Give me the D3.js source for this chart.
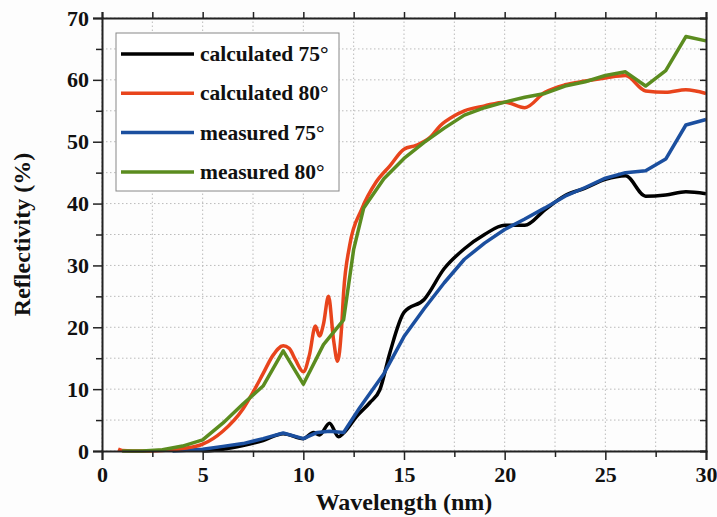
<!DOCTYPE html>
<html>
<head>
<meta charset="utf-8">
<script src="https://cdn.jsdelivr.net/npm/d3@7"></script>
<style>
  body { margin: 0; background: #fdfdfd; }
  text { font-family: "Liberation Serif", "Times New Roman", serif; font-weight: bold; fill: #111; }
</style>
</head>
<body>
<div id="main"></div>
<script>
// DATA (wavelength nm, reflectivity %)
const calc75 = [
  [5, 0], [6, 0.3], [7, 0.9], [8, 1.7], [9, 2.8], [10, 2.0], [10.5, 3.0], [10.8, 2.6],
  [11.3, 4.5], [11.75, 2.3], [12, 2.9], [12.65, 5.6], [13.3, 7.8], [13.8, 9.9], [14.3, 15.9],
  [15, 22.4], [16, 24.5], [17, 29.5], [18, 32.7], [19, 35], [20, 36.5], [21, 36.5], [22, 39],
  [23, 41.3], [24, 42.5], [25, 43.9], [26, 44.5], [27, 41.2], [28, 41.4], [29, 41.9], [30, 41.6]
]
const calc80 = [
  [0.8, 0.3], [1, 0.1], [2, 0], [3, 0.1], [4, 0.4], [5, 1.1], [6, 3.2], [7, 6.8], [7.5, 9.5],
  [8, 12.5], [8.5, 15.5], [9, 17.0], [9.3, 16.6], [9.6, 14.8], [10, 12.8], [10.3, 15.5],
  [10.6, 20.2], [10.8, 18.6], [11.0, 20.5], [11.25, 25], [11.5, 18], [11.7, 14.5], [11.9, 20],
  [12.0, 25.6], [12.3, 33.2], [12.9, 39.1], [13.6, 43.4], [14.3, 46.1], [15.0, 48.8], [15.6, 49.4],
  [16.3, 50.7], [16.8, 52.6], [17.5, 54.2], [18, 55.0], [19, 55.8], [20, 56.4], [21, 55.5],
  [22, 58.0], [23, 59.2], [24, 59.8], [25, 60.3], [26, 60.7], [27, 58.2], [28, 58.0], [29, 58.4], [30, 57.8]
]
const meas75 = [
  [3.5, 0], [4, 0.1], [5, 0.3], [6, 0.75], [7, 1.2], [8, 2.0], [9, 2.9], [10, 2.0], [10.7, 3.0],
  [11.3, 3.2], [12, 3.0], [12.8, 7.0], [14, 12.5], [15, 18.5], [16, 23.0], [17, 27.2], [18, 31.0],
  [19, 33.6], [20, 35.8], [21, 37.5], [22, 39.3], [23, 41.2], [24, 42.6], [25, 44.1], [26, 45.0],
  [27, 45.3], [28, 47.2], [29, 52.7], [30, 53.6]
]
const meas80 = [
  [1, 0], [2, 0], [3, 0.2], [4, 0.8], [5, 1.8], [6, 4.5], [7, 7.6], [8, 10.5], [9, 16.2], [10, 10.8],
  [11, 17.2], [12, 21.2], [12.5, 32.6], [13, 39.3], [14, 44], [15, 47.3], [16, 49.9], [17, 52.2],
  [18, 54.3], [19, 55.5], [20, 56.4], [21, 57.2], [22, 57.8], [23, 59.0], [24, 59.7], [25, 60.7],
  [26, 61.3], [27, 59.0], [28, 61.5], [29, 67.0], [30, 66.3]
]
const seriesNames = ["calculated 75°", "calculated 80°", "measured 75°", "measured 80°"]
const xTicks = [0, 5, 10, 15, 20, 25, 30]
const yTicks = [0, 10, 20, 30, 40, 50, 60, 70]

// SETUP
const width = 717, height = 517
const margin = {top: 18, right: 11, bottom: 66, left: 102}
const colors = ['#000000', '#e8441c', '#1b4f9f', '#5b8c1f']

let x = d3.scaleLinear().domain([0, 30]).range([margin.left, width - margin.right])
let y = d3.scaleLinear().domain([0, 70]).range([height - margin.bottom, margin.top])

let svg = d3.select("#main").append("svg")
  .attr("width", width)
  .attr("height", height)

// grid
let gridX = d3.range(0, 30.1, 2.5), gridY = d3.range(0, 70.1, 5)
svg.append("g").selectAll("line").data(gridX).enter().append("line")
  .attr("x1", d => x(d)).attr("x2", d => x(d))
  .attr("y1", y(0)).attr("y2", y(70))
  .attr("stroke", "#bbb").attr("stroke-dasharray", "1.5,2.5")
svg.append("g").selectAll("line").data(gridY).enter().append("line")
  .attr("x1", x(0)).attr("x2", x(30))
  .attr("y1", d => y(d)).attr("y2", d => y(d))
  .attr("stroke", "#bbb").attr("stroke-dasharray", "1.5,2.5")

// lines: calculated are smooth, measured are straight segments
let smoothLine = d3.line()
  .x(d => x(d[0]))
  .y(d => y(d[1]))
  .curve(d3.curveMonotoneX)
let straightLine = d3.line()
  .x(d => x(d[0]))
  .y(d => y(d[1]))

let allSeries = [calc75, calc80, meas75, meas80]
let lineFns = [smoothLine, smoothLine, straightLine, straightLine]
// draw order: black, blue, red, green on top
;[0, 2, 1, 3].forEach(i => {
  svg.append("path")
    .attr("d", lineFns[i](allSeries[i]))
    .attr("fill", "none")
    .attr("stroke", colors[i])
    .attr("stroke-width", 3.5)
    .attr("stroke-linejoin", "round")
})

// axes
function styleAxis(g) {
  g.selectAll(".domain").attr("stroke", "#222").attr("stroke-width", 2)
  g.selectAll(".tick line").attr("stroke", "#222").attr("stroke-width", 1.5)
}
let xAxis = svg.append("g")
  .attr("transform", `translate(0,${y(0)})`)
  .call(d3.axisBottom(x).tickValues(xTicks).tickSize(9).tickPadding(6))
xAxis.call(styleAxis)
xAxis.selectAll("text").attr("font-size", 22).attr("font-family", null)
svg.append("g")
  .attr("transform", `translate(0,${y(0)})`)
  .call(d3.axisBottom(x).tickValues(d3.range(2.5, 30, 5)).tickSize(6).tickFormat(""))
  .call(styleAxis).select(".domain").remove()

let yAxis = svg.append("g")
  .attr("transform", `translate(${x(0)},0)`)
  .call(d3.axisLeft(y).tickValues(yTicks).tickSize(9).tickPadding(4))
yAxis.call(styleAxis)
yAxis.selectAll("text").attr("font-size", 22).attr("font-family", null)
svg.append("g")
  .attr("transform", `translate(${x(0)},0)`)
  .call(d3.axisLeft(y).tickValues(d3.range(5, 70, 10)).tickSize(6).tickFormat(""))
  .call(styleAxis).select(".domain").remove()

// top & right frame
svg.append("g")
  .attr("transform", `translate(0,${y(70)})`)
  .call(d3.axisTop(x).tickValues(d3.range(0, 30.1, 2.5)).tickSize(6).tickFormat(""))
  .call(styleAxis)
svg.append("g")
  .attr("transform", `translate(${x(30)},0)`)
  .call(d3.axisLeft(y).tickValues(d3.range(0, 70.1, 5)).tickSize(6).tickFormat(""))
  .call(styleAxis)

// titles
svg.append("text")
  .attr("x", (x(0) + x(30)) / 2)
  .attr("y", 510)
  .attr("text-anchor", "middle")
  .attr("font-size", 24)
  .text("Wavelength (nm)")
svg.append("text")
  .attr("transform", `translate(30,${(y(0) + y(70)) / 2}) rotate(-90)`)
  .attr("text-anchor", "middle")
  .attr("font-size", 24)
  .text("Reflectivity (%)")

// legend
let legend = svg.append("g")
legend.append("rect")
  .attr("x", 116).attr("y", 33).attr("width", 223).attr("height", 158)
  .attr("fill", "#fff").attr("stroke", "#888").attr("stroke-width", 1)
seriesNames.forEach((name, i) => {
  let ly = 54 + i * 39.3
  legend.append("line")
    .attr("x1", 121).attr("x2", 194)
    .attr("y1", ly).attr("y2", ly)
    .attr("stroke", colors[i]).attr("stroke-width", 3.5)
  legend.append("text")
    .attr("x", 200).attr("y", ly + 7)
    .attr("font-size", 21.5)
    .text(name)
})
</script>
</body>
</html>
